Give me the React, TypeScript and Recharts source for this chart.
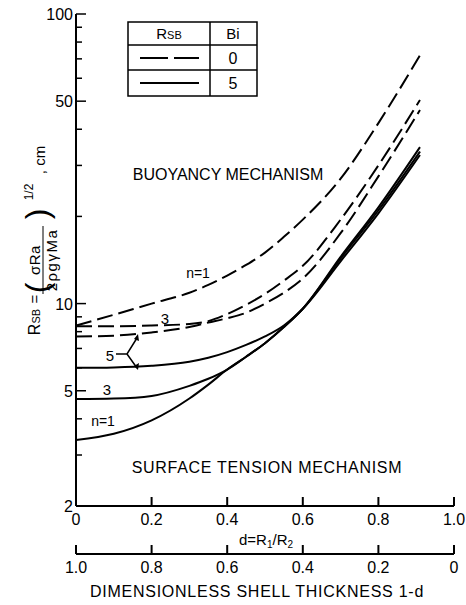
import React from 'react';
import { Line, LineChart, XAxis, YAxis } from 'recharts';

// d = R1/R2 sample points and R_SB (cm)
const dVals = [0, 0.1, 0.2, 0.3, 0.35, 0.4, 0.45, 0.5, 0.55, 0.6, 0.7, 0.8, 0.91];
const bi0n1 = [8.4, 9.15, 10.0, 10.9, 11.6, 12.5, 13.6, 15.0, 17.0, 19.5, 27, 42, 72];
const bi0n3 = [8.35, 8.35, 8.4, 8.5, 8.7, 9.2, 9.9, 10.8, 12.0, 13.5, 19.5, 30, 50.5];
const bi0n5 = [7.7, 7.75, 7.95, 8.3, 8.6, 8.9, 9.3, 10.0, 10.9, 12.2, 17.5, 27.5, 46.6];
const bi5n1 = [3.38, 3.55, 3.95, 4.7, 5.25, 5.92, 6.55, 7.3, 8.3, 9.6, 14.5, 21.5, 34.7];
const bi5n3 = [4.68, 4.7, 4.8, 5.2, 5.5, 5.92, 6.55, 7.3, 8.3, 9.6, 14.3, 21.0, 33.5];
const bi5n5 = [6.0, 6.02, 6.1, 6.3, 6.5, 6.8, 7.2, 7.7, 8.4, 9.6, 14.0, 20.5, 32.6];

const yTicks = [2, 3, 4, 5, 6, 7, 8, 9, 10, 20, 30, 40, 50, 60, 70, 80, 90, 100];
const yMajor = [2, 5, 10, 50, 100];
const xTicks = [0, 0.2, 0.4, 0.6, 0.8, 1.0];

const FONT = '"Liberation Sans", Arial, sans-serif';
const DASH = '16 6';

const rows = dVals.map((d, i) => ({
  d,
  bi0n1: bi0n1[i],
  bi0n3: bi0n3[i],
  bi0n5: bi0n5[i],
  bi5n1: bi5n1[i],
  bi5n3: bi5n3[i],
  bi5n5: bi5n5[i],
}));

const fmtX = (v: number) => (v === 0 ? '0' : v.toFixed(1));

function XTick(props: any) {
  const { x, y, payload } = props;
  return (
    <g>
      <line x1={x} x2={x} y1={y} y2={y - 9} stroke="#000" strokeWidth={2} />
      <text x={x} y={y + 19} textAnchor="middle" fontSize={16} fontFamily={FONT} fill="#000">
        {fmtX(payload.value)}
      </text>
    </g>
  );
}

function YTick(props: any) {
  const { x, y, payload } = props;
  const major = yMajor.includes(payload.value);
  return (
    <g>
      <line x1={x} x2={x + (major ? 10 : 6)} y1={y} y2={y} stroke="#000" strokeWidth={1.5} />
      {major && (
        <text x={x - 3} y={y + 6} textAnchor="end" fontSize={16} fontFamily={FONT} fill="#000">
          {payload.value}
        </text>
      )}
    </g>
  );
}

function Overlay() {
  const t = { fontFamily: FONT, fill: '#000' } as const;
  return (
    <svg width={466} height={605} style={{ position: 'absolute', left: 0, top: 0, pointerEvents: 'none' }}>
      {/* legend table */}
      <g stroke="#000" strokeWidth={1.5} fill="none">
        <rect x={128} y={22} width={129} height={74} />
        <line x1={210} x2={210} y1={22} y2={96} />
        <line x1={128} x2={257} y1={45} y2={45} />
        <line x1={128} x2={257} y1={70} y2={70} />
      </g>
      <line x1={140} x2={199} y1={58} y2={58} stroke="#000" strokeWidth={2} strokeDasharray="28 6" />
      <line x1={140} x2={199} y1={83} y2={83} stroke="#000" strokeWidth={2} />
      <text x={169} y={39} textAnchor="middle" fontSize={15} {...t}>
        R<tspan fontSize={11}>SB</tspan>
      </text>
      <text x={233} y={39} textAnchor="middle" fontSize={15} {...t}>Bi</text>
      <text x={233} y={64} textAnchor="middle" fontSize={16} {...t}>0</text>
      <text x={233} y={89} textAnchor="middle" fontSize={16} {...t}>5</text>

      {/* regions */}
      <text x={228} y={180} textAnchor="middle" fontSize={16} {...t}>BUOYANCY MECHANISM</text>
      <text x={267} y={473} textAnchor="middle" fontSize={16} letterSpacing={0.7} {...t}>
        SURFACE TENSION MECHANISM
      </text>

      {/* curve labels */}
      <text x={198} y={278} textAnchor="middle" fontSize={14} {...t}>n=1</text>
      <text x={165} y={324} textAnchor="middle" fontSize={15} {...t}>3</text>
      <text x={110} y={361} textAnchor="middle" fontSize={15} {...t}>5</text>
      <path d="M116 354 H127 L137 338 M127 354 L137 368" stroke="#000" strokeWidth={1.5} fill="none" />
      <path d="M134 339 L138 334 L139 341 Z M134 366 L138 370 L139 363 Z" fill="#000" />
      <text x={107} y={395} textAnchor="middle" fontSize={15} {...t}>3</text>
      <text x={103} y={426} textAnchor="middle" fontSize={14} {...t}>n=1</text>

      {/* x axis titles */}
      <text x={266} y={545} textAnchor="middle" fontSize={15} {...t}>
        d=R<tspan fontSize={10} dy={3}>1</tspan><tspan dy={-3}>/R</tspan><tspan fontSize={10} dy={3}>2</tspan>
      </text>
      <text x={257} y={597} textAnchor="middle" fontSize={16} letterSpacing={0.75} {...t}>
        DIMENSIONLESS SHELL THICKNESS 1-d
      </text>

      {/* y axis title, rotated */}
      <text transform="translate(40,322) rotate(-90)" textAnchor="middle" fontSize={16} {...t}>
        R<tspan fontSize={11}>SB</tspan>
      </text>
      <text transform="translate(40,299) rotate(-90)" textAnchor="middle" fontSize={15} {...t}>=</text>
      <text transform="translate(48,288) rotate(-90)" textAnchor="middle" fontSize={32} {...t}>(</text>
      <text transform="translate(40,260) rotate(-90)" textAnchor="middle" fontSize={15} letterSpacing={0.5} {...t}>σRa</text>
      <line x1={43} x2={43} y1={226} y2={294} stroke="#000" strokeWidth={1} />
      <text transform="translate(57,260) rotate(-90)" textAnchor="middle" fontSize={15} letterSpacing={1.5} {...t}>2ρgγMa</text>
      <text transform="translate(48,214) rotate(-90)" textAnchor="middle" fontSize={32} {...t}>)</text>
      <text transform="translate(33,192) rotate(-90)" textAnchor="middle" fontSize={12} {...t}>1/2</text>
      <text transform="translate(45,160) rotate(-90)" textAnchor="middle" fontSize={15} {...t}>, cm</text>
    </svg>
  );
}

export default function App() {
  return (
    <div style={{ position: 'absolute', left: 0, top: 0, width: 466, height: 605, background: '#fff' }}>
      <LineChart width={466} height={605} data={rows} margin={{ top: 14, right: 12, bottom: 0, left: 0 }}>
        <XAxis
          xAxisId="d"
          dataKey="d"
          type="number"
          domain={[0, 1]}
          ticks={xTicks}
          allowDataOverflow
          height={48}
          tickSize={0}
          tickMargin={0}
          tickLine={false}
          tick={<XTick />}
          axisLine={{ stroke: '#000', strokeWidth: 2 }}
        />
        <XAxis
          xAxisId="t"
          dataKey="d"
          type="number"
          domain={[0, 1]}
          reversed
          ticks={xTicks}
          allowDataOverflow
          height={51}
          tickSize={0}
          tickMargin={0}
          tickLine={false}
          tick={<XTick />}
          axisLine={{ stroke: '#000', strokeWidth: 2 }}
        />
        <YAxis
          type="number"
          scale="log"
          domain={[2, 100]}
          ticks={yTicks}
          allowDataOverflow
          width={76}
          tickSize={0}
          tickMargin={0}
          tickLine={false}
          tick={<YTick />}
          axisLine={{ stroke: '#000', strokeWidth: 2 }}
          interval={0}
        />
        <Line xAxisId="d" dataKey="bi0n1" type="monotone" stroke="#000" strokeWidth={2} strokeDasharray={DASH} dot={false} isAnimationActive={false} />
        <Line xAxisId="d" dataKey="bi0n3" type="monotone" stroke="#000" strokeWidth={2} strokeDasharray={DASH} dot={false} isAnimationActive={false} />
        <Line xAxisId="d" dataKey="bi0n5" type="monotone" stroke="#000" strokeWidth={2} strokeDasharray={DASH} dot={false} isAnimationActive={false} />
        <Line xAxisId="d" dataKey="bi5n1" type="monotone" stroke="#000" strokeWidth={2} dot={false} isAnimationActive={false} />
        <Line xAxisId="d" dataKey="bi5n3" type="monotone" stroke="#000" strokeWidth={2} dot={false} isAnimationActive={false} />
        <Line xAxisId="d" dataKey="bi5n5" type="monotone" stroke="#000" strokeWidth={2} dot={false} isAnimationActive={false} />
      </LineChart>
      <Overlay />
    </div>
  );
}
